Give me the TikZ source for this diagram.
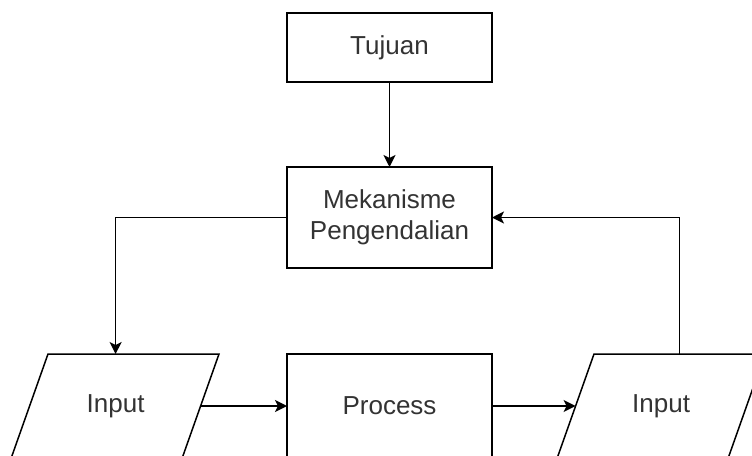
\documentclass[tikz,border=0pt]{standalone}
\usepackage{fontspec}
\setmainfont{Liberation Sans}
\usetikzlibrary{arrows.meta}
\definecolor{txt}{RGB}{51,51,51}
\begin{document}
\begin{tikzpicture}[x=1pt,y=-1pt,
  every node/.style={font=\fontsize{26}{31}\selectfont, text=txt, align=center},
  box/.style={draw=black, line width=1.5pt, rectangle, minimum width=205pt, inner sep=0pt, outer sep=0pt},
  paraline/.style={draw=black, line width=1.5pt, line join=miter},
  conn/.style={line width=1.5pt, -{Stealth[length=12pt,width=12pt,inset=3pt]}}
]
\useasboundingbox (0,0) rectangle (752,455);
\node[box, minimum height=69pt] (tuj) at (389.5,47.5) {Tujuan};
\node[box, minimum height=101pt] (mek) at (389.5,217.5) {Mekanisme\\Pengendalian};
\node[box, minimum height=104pt] (proc) at (389.5,406) {Process};
% left parallelogram
\coordinate (lptl) at (48,354);
\coordinate (lptr) at (219,354);
\coordinate (lpbr) at (182.2,458);
\coordinate (lpbl) at (11.2,458);
\draw[paraline] (lptl) -- (lptr) -- (lpbr) -- (lpbl) -- cycle;
\node (lp) at (115.6,406) {Input};
\coordinate (lptop) at (115.6,354);
\coordinate (lpeast) at (200.6,406);
% right parallelogram
\coordinate (rptl) at (594,354);
\coordinate (rptr) at (765,354);
\coordinate (rpbr) at (728.2,458);
\coordinate (rpbl) at (557.2,458);
\draw[paraline] (rptl) -- (rptr) -- (rpbr) -- (rpbl) -- cycle;
\node (rp) at (661.1,406) {Input};
\coordinate (rptop) at (679.5,354);
\coordinate (rpwest) at (575.6,406);
% connectors
\draw[conn] (tuj.south) -- (mek.north);
\draw[conn] (mek.west) -| (lptop);
\draw[conn] (lpeast) -- (proc.west);
\draw[conn] (proc.east) -- (rpwest);
\draw[conn] (rptop) |- (mek.east);
\end{tikzpicture}
\end{document}
